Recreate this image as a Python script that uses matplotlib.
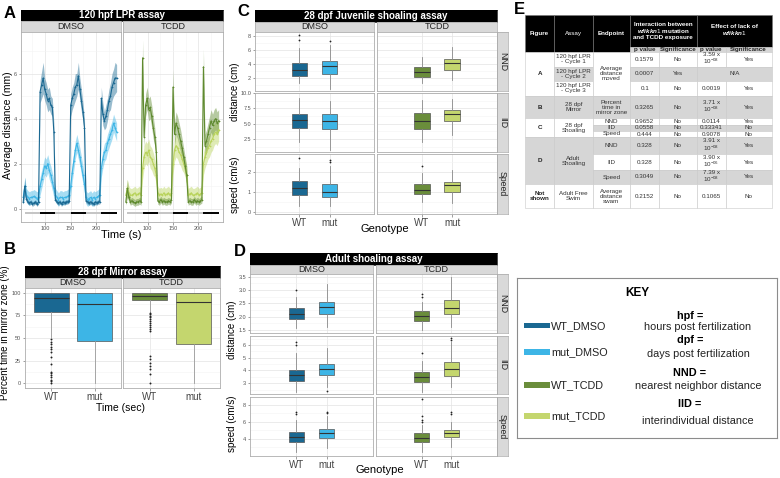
import numpy as np
import matplotlib
matplotlib.use('Agg')
import matplotlib.pyplot as plt
from matplotlib.patches import Rectangle
from matplotlib.ticker import AutoMinorLocator

plt.rcParams['font.family'] = ['Liberation Sans', 'DejaVu Sans']
plt.rcParams['mathtext.fontset'] = 'custom'
plt.rcParams['mathtext.rm'] = 'Liberation Sans'
plt.rcParams['mathtext.it'] = 'Liberation Sans:italic:bold'
plt.rcParams['mathtext.bf'] = 'Liberation Sans:bold'

# group colours: WT_DMSO, mut_DMSO, WT_TCDD, mut_TCDD
groups = ['WT_DMSO', 'mut_DMSO', 'WT_TCDD', 'mut_TCDD']
colors = ['#1a6892', '#3db5e6', '#6a8d3b', '#c4d66e']

# ---------------- A : LPR, mean distance per 3 s bin ----------------
lpr_time = list(range(57, 241, 3))
wt_dmso = [0.3, 1.0, 0.45, 0.3, 0.25, 0.3, 0.2, 0.25, 0.3, 0.2, 0.3,
           5.2, 5.5, 5.8, 5.3, 5.1, 4.8, 4.9, 4.6, 4.5, 3.4,
           0.4, 0.3, 0.25, 0.3, 0.2, 0.3, 0.25, 0.3, 0.3, 0.35,
           4.6, 4.9, 5.1, 5.4, 5.5, 5.9, 5.3, 4.8, 4.3, 3.6,
           0.35, 0.3, 0.25, 0.3, 0.25, 0.2, 0.3, 0.25, 0.3, 0.3,
           4.9, 4.2, 3.9, 4.1, 4.4, 4.8, 5.0, 5.4, 5.6, 5.8, 5.8]
wt_dmso_se = [0.1, 0.4, 0.15, 0.1, 0.1, 0.1, 0.1, 0.1, 0.1, 0.1, 0.1,
              0.5, 0.6, 0.7, 0.5, 0.5, 0.5, 0.5, 0.4, 0.4, 0.4,
              0.1, 0.1, 0.1, 0.1, 0.1, 0.1, 0.1, 0.1, 0.1, 0.1,
              0.5, 0.5, 0.5, 0.6, 0.5, 0.6, 0.5, 0.5, 0.4, 0.4,
              0.1, 0.1, 0.1, 0.1, 0.1, 0.1, 0.1, 0.1, 0.1, 0.1,
              0.5, 0.5, 0.4, 0.5, 0.5, 0.5, 0.6, 0.6, 0.6, 0.7, 0.6]
mut_dmso = [0.5, 1.0, 0.6, 0.5, 0.45, 0.5, 0.5, 0.55, 0.5, 0.45, 0.5,
            1.0, 1.3, 1.6, 1.9, 1.8, 2.0, 1.7, 1.5, 1.2, 0.9,
            0.6, 0.5, 0.4, 0.5, 0.5, 0.45, 0.5, 0.5, 0.55, 0.6,
            1.0, 1.6, 2.1, 2.6, 2.9, 2.6, 2.3, 1.9, 1.5, 1.1,
            0.5, 0.4, 0.45, 0.5, 0.4, 0.5, 0.45, 0.5, 0.55, 0.6,
            1.8, 2.2, 2.5, 2.6, 2.9, 3.1, 3.3, 3.5, 3.8, 3.6, 3.4]
mut_dmso_se = [0.3, 0.4, 0.3, 0.3, 0.3, 0.3, 0.3, 0.3, 0.3, 0.3, 0.3,
               0.4, 0.4, 0.4, 0.4, 0.4, 0.4, 0.4, 0.4, 0.4, 0.4,
               0.3, 0.3, 0.3, 0.3, 0.3, 0.3, 0.3, 0.3, 0.3, 0.3,
               0.4, 0.4, 0.4, 0.4, 0.4, 0.4, 0.4, 0.4, 0.4, 0.4,
               0.3, 0.3, 0.3, 0.3, 0.3, 0.3, 0.3, 0.3, 0.3, 0.3,
               0.4, 0.4, 0.4, 0.4, 0.4, 0.4, 0.4, 0.4, 0.4, 0.4, 0.4]
wt_tcdd = [0.3, 0.9, 0.5, 0.3, 0.35, 0.3, 0.25, 0.3, 0.3, 0.35, 0.3,
           6.7, 3.2, 4.6, 4.9, 4.4, 4.5, 4.1, 3.6, 3.2, 2.5,
           0.35, 0.3, 0.4, 0.3, 0.35, 0.3, 0.3, 0.35, 0.3, 0.4,
           5.4, 3.3, 3.8, 3.6, 3.3, 3.0, 2.7, 2.3, 1.9, 1.5,
           0.3, 0.35, 0.3, 0.3, 0.4, 0.3, 0.35, 0.3, 0.35, 0.4,
           6.3, 2.8, 3.0, 3.3, 3.6, 3.9, 3.7, 3.9, 4.0, 3.8, 3.9]
wt_tcdd_se = [0.15, 0.4, 0.2, 0.15, 0.15, 0.15, 0.15, 0.15, 0.15, 0.15, 0.15,
              0.8, 0.5, 0.5, 0.5, 0.5, 0.5, 0.5, 0.5, 0.4, 0.4,
              0.15, 0.15, 0.15, 0.15, 0.15, 0.15, 0.15, 0.15, 0.15, 0.15,
              0.8, 0.5, 0.5, 0.5, 0.5, 0.5, 0.4, 0.4, 0.4, 0.4,
              0.15, 0.15, 0.15, 0.15, 0.15, 0.15, 0.15, 0.15, 0.15, 0.15,
              0.8, 0.5, 0.5, 0.5, 0.5, 0.5, 0.5, 0.5, 0.5, 0.5, 0.5]
mut_tcdd = [0.6, 0.9, 0.7, 0.6, 0.6, 0.65, 0.7, 0.6, 0.65, 0.7, 0.6,
            1.8, 2.3, 2.5, 2.4, 2.6, 2.3, 2.2, 2.0, 1.8, 1.5,
            0.7, 0.6, 0.65, 0.6, 0.7, 0.6, 0.65, 0.7, 0.6, 0.7,
            2.0, 2.6, 2.8, 2.7, 2.5, 2.4, 2.2, 2.0, 1.8, 1.5,
            0.6, 0.65, 0.7, 0.6, 0.6, 0.65, 0.7, 0.6, 0.65, 0.7,
            2.0, 2.3, 2.5, 2.7, 2.8, 3.0, 3.1, 3.3, 3.4, 3.3, 3.5]
mut_tcdd_se = [0.3, 0.4, 0.3, 0.3, 0.3, 0.3, 0.3, 0.3, 0.3, 0.3, 0.3,
               0.5, 0.5, 0.5, 0.5, 0.5, 0.5, 0.5, 0.5, 0.4, 0.4,
               0.3, 0.3, 0.3, 0.3, 0.3, 0.3, 0.3, 0.3, 0.3, 0.3,
               0.5, 0.5, 0.5, 0.5, 0.5, 0.5, 0.5, 0.4, 0.4, 0.4,
               0.3, 0.3, 0.3, 0.3, 0.3, 0.3, 0.3, 0.3, 0.3, 0.3,
               0.5, 0.5, 0.5, 0.5, 0.5, 0.5, 0.5, 0.5, 0.5, 0.5, 0.5]
light_starts = [60, 120, 180]
dark_starts = [90, 150, 210]
phase_len = 30

# ---------------- B : mirror assay, % time in mirror zone ----------------
mirror_med = [94.5, 87, 96, 90]
mirror_q1 = [79, 47, 91.5, 43]
mirror_q3 = [99, 99.5, 99, 99.5]
mirror_lo = [51, 0, 79, 0]
mirror_hi = [100, 100, 100, 100]
mirror_out = [[48.6, 46, 43.4, 40.5, 37.6, 34.7, 29.5, 21.2, 13.1, 11.3, 8.8, 6.6, 4, 2.2, 0.4],
              [],
              [78, 76, 74.4, 72.6, 70.8, 68.6, 66.7, 64.2, 61.7, 59.8, 57.7,
               30.6, 27, 22.3, 19.7, 16.1, 10.3, 0],
              []]

# ---------------- C : juvenile shoaling ----------------
metrics = ['NND', 'IID', 'Speed']
juv_med = {'NND': [3.17, 3.63, 2.9, 4.06], 'IID': [5.59, 5.48, 5.48, 6.56], 'Speed': [1.23, 1.03, 1.11, 1.36]}
juv_q1 = {'NND': [2.32, 2.5, 2.2, 3.2], 'IID': [4.24, 4.08, 4.14, 5.48], 'Speed': [0.87, 0.75, 0.9, 1.01]}
juv_q3 = {'NND': [4.11, 4.4, 3.5, 4.7], 'IID': [6.56, 6.56, 6.82, 7.31], 'Speed': [1.59, 1.44, 1.44, 1.53]}
juv_lo = {'NND': [1.3, 0.45, 1.3, 1.66], 'IID': [1.98, 0.65, 2.1, 3.18], 'Speed': [0.33, 0.3, 0.52, 0.49]}
juv_hi = {'NND': [6.2, 6.7, 4.96, 6.45], 'IID': [9.24, 8.7, 8.8, 9.08], 'Speed': [2.22, 2.33, 1.97, 2.1]}
juv_out = {'NND': [[8.1, 7.4], [7.25], [], []], 'IID': [[], [], [], []],
           'Speed': [[2.74], [2.63, 2.51], [2.3], []]}
juv_ylim = {'NND': (0.17, 8.5), 'IID': (0.4, 9.85), 'Speed': (-0.08, 2.92)}
juv_ticks = {'NND': [2, 4, 6, 8], 'IID': [2.5, 5.0, 7.5, 10.0], 'Speed': [0, 1, 2]}
juv_ticklabels = {'NND': ['2', '4', '6', '8'], 'IID': ['2.5', '5.0', '7.5', '10.0'], 'Speed': ['0', '1', '2']}

# ---------------- D : adult shoaling ----------------
ad_med = {'NND': [2.10, 2.35, 2.03, 2.33], 'IID': [3.66, 4.13, 3.52, 4.13], 'Speed': [4.2, 4.67, 4.15, 4.74]}
ad_q1 = {'NND': [1.90, 2.10, 1.85, 2.10], 'IID': [3.21, 3.68, 3.13, 3.60], 'Speed': [3.68, 4.15, 3.68, 4.2]}
ad_q3 = {'NND': [2.32, 2.55, 2.21, 2.62], 'IID': [4.05, 4.52, 3.92, 4.67], 'Speed': [4.86, 5.18, 4.67, 5.06]}
ad_lo = {'NND': [1.57, 1.6, 1.5, 1.63], 'IID': [2.35, 2.74, 2.35, 2.74], 'Speed': [2.5, 2.9, 2.5, 3.02]}
ad_hi = {'NND': [2.75, 3.21, 2.56, 3.5], 'IID': [5.35, 5.74, 4.77, 6.26], 'Speed': [6.24, 6.7, 5.65, 6.04]}
ad_out = {'NND': [[3.0], [], [2.84, 2.75], []],
          'IID': [[6.2, 6.0], [2.43], [5.35], [6.52, 6.39]],
          'Speed': [[7.2, 6.94], [7.2, 7.0], [8.67, 6.7, 6.24, 6.04], [7.14, 6.94]]}
ad_ylim = {'NND': (1.39, 3.6), 'IID': (2.16, 6.7), 'Speed': (2.0, 8.94)}
ad_ticks = {'NND': [1.5, 2.0, 2.5, 3.0, 3.5], 'IID': [3, 4, 5, 6], 'Speed': [4, 6, 8]}
ad_ticklabels = {'NND': ['1.5', '2.0', '2.5', '3.0', '3.5'], 'IID': ['3', '4', '5', '6'], 'Speed': ['4', '6', '8']}

# ---------------- E : statistics table ----------------
tbl_figure = ['A', 'B', 'C', 'D', 'Not\nshown']
tbl_assay = ['120 hpf LPR\n- Cycle 1', '120 hpf LPR\n- Cycle 2', '120 hpf LPR\n- Cycle 3', '28 dpf\nMirror',
             '28 dpf\nShoaling', 'Adult\nShoaling', 'Adult Free\nSwim']
tbl_endpoint = ['Average\ndistance\nmoved', 'Percent\ntime in\nmirror zone', 'NND', 'IID', 'Speed',
                'NND', 'IID', 'Speed', 'Average\ndistance\nswam']
int_p = ['0.1579', '0.0007', '0.1', '0.3265', '0.9652', '0.0558', '0.444', '0.328', '0.328', '0.3049', '0.2152']
int_sig = ['No', 'Yes', 'No', 'No', 'No', 'No', 'No', 'No', 'No', 'No', 'No']
eff_p = ['3.59 x\n10$^{-08}$', 'N/A', '0.0019', '3.71 x\n10$^{-08}$', '0.0114', '0.33341', '0.9078',
         '3.91 x\n10$^{-08}$', '3.90 x\n10$^{-06}$', '7.39 x\n10$^{-08}$', '0.1065']
eff_sig = ['Yes', None, 'Yes', 'Yes', 'Yes', 'No', 'No', 'Yes', 'Yes', 'Yes', 'No']

key_abbrev = ['hpf =', 'dpf =', 'NND =', 'IID =']
key_meaning = ['hours post fertilization', 'days post fertilization',
               'nearest neighbor distance', 'interindividual distance']

# ================= drawing =================
W, H = 780, 478
fig = plt.figure(figsize=(7.8, 4.78), dpi=100)
fig.patch.set_facecolor('white')


def px_ax(x0, y0, x1, y1):
    return fig.add_axes([x0 / W, 1 - y1 / H, (x1 - x0) / W, (y1 - y0) / H])


def ftext(x, y, s, **kw):
    return fig.text(x / W, 1 - y / H, s, **kw)


def bar(x0, y0, x1, y1, text, fc, tc, weight='normal', size=6.3, rot=0, ec=None):
    ax = px_ax(x0, y0, x1, y1)
    ax.set_facecolor(fc)
    ax.set_xticks([])
    ax.set_yticks([])
    for s in ax.spines.values():
        s.set_color(ec if ec else fc)
        s.set_linewidth(0.5)
    ax.text(0.5, 0.5, text, transform=ax.transAxes, ha='center', va='center',
            color=tc, fontsize=size, fontweight=weight, rotation=rot)
    return ax


def style_panel(ax):
    ax.set_facecolor('white')
    for s in ax.spines.values():
        s.set_color('#adadad')
        s.set_linewidth(0.6)
    ax.yaxis.set_minor_locator(AutoMinorLocator(2))
    ax.grid(True, which='major', color='#e3e3e3', lw=0.5)
    ax.grid(True, which='minor', axis='y', color='#f3f3f3', lw=0.4)
    ax.set_axisbelow(True)
    ax.tick_params(labelsize=4, colors='#555555', length=1.8, width=0.4, pad=1)
    ax.tick_params(which='minor', length=0)


strip_fc = '#d9d9d9'
strip_ec = '#a8a8a8'

# ---- panel A ----
bar(20.7, 9.5, 222.7, 21, '120 hpf LPR assay', 'black', 'white', 'bold', 7)
for x0, x1, name in [(20.7, 120.7, 'DMSO'), (123.3, 222.7, 'TCDD')]:
    bar(x0, 21, x1, 31.5, name, strip_fc, '#222222', size=6.5, ec=strip_ec)
lpr_sets = [[(mut_dmso, mut_dmso_se, colors[1]), (wt_dmso, wt_dmso_se, colors[0])],
            [(mut_tcdd, mut_tcdd_se, '#b9d35c'), (wt_tcdd, wt_tcdd_se, '#5f8a2f')]]
for i, (x0, x1) in enumerate([(20.7, 120.7), (123.3, 222.7)]):
    ax = px_ax(x0, 31.5, x1, 221.7)
    style_panel(ax)
    t = np.array(lpr_time)
    for m, se, c in lpr_sets[i]:
        m = np.array(m)
        se = np.array(se)
        ax.fill_between(t, m - se, m + se, color=c, alpha=0.45, lw=0)
    for m, se, c in lpr_sets[i]:
        ax.plot(t, m, color=c, lw=0.8, marker='+', ms=2, mew=0.5)
    for s in light_starts:
        ax.plot([s, s + phase_len], [-0.2, -0.2], color='#c4c4c4', lw=1.4, solid_capstyle='butt')
    for s in dark_starts:
        ax.plot([s, s + phase_len], [-0.2, -0.2], color='black', lw=1.4, solid_capstyle='butt')
    ax.set_xlim(52, 248)
    ax.set_ylim(-0.58, 7.87)
    ax.set_xticks([100, 150, 200])
    ax.xaxis.set_minor_locator(AutoMinorLocator(2))
    ax.grid(True, which='minor', axis='x', color='#f3f3f3', lw=0.4)
    ax.set_yticks([0, 2, 4, 6])
    if i == 1:
        ax.tick_params(axis='y', length=0, labelleft=False)
ftext(8, 125, 'Average distance (mm)', rotation=90, ha='center', va='center', fontsize=7.5)
ftext(121, 235, 'Time (s)', ha='center', va='center', fontsize=8)
ftext(10, 13, 'A', ha='center', va='center', fontsize=12, fontweight='bold')

# ---- panel B ----
bar(25, 266, 220, 277.5, '28 dpf Mirror assay', 'black', 'white', 'bold', 7)
for x0, x1, name in [(25, 120.7, 'DMSO'), (123.3, 220, 'TCDD')]:
    bar(x0, 277.5, x1, 288, name, strip_fc, '#222222', size=6.5, ec=strip_ec)
for i, (x0, x1) in enumerate([(25, 120.7), (123.3, 220)]):
    ax = px_ax(x0, 288, x1, 388)
    style_panel(ax)
    stats = []
    for g in (2 * i, 2 * i + 1):
        stats.append(dict(med=mirror_med[g], q1=mirror_q1[g], q3=mirror_q3[g],
                          whislo=mirror_lo[g], whishi=mirror_hi[g], fliers=mirror_out[g]))
    bp = ax.bxp(stats, positions=[1, 2], widths=0.8, patch_artist=True, showcaps=False,
                boxprops=dict(lw=0.5, edgecolor='#555555'),
                medianprops=dict(color='#333333', lw=0.8),
                whiskerprops=dict(color='#9a9a9a', lw=0.6),
                flierprops=dict(marker='o', ms=1.4, mfc='#222222', mec='none'))
    for patch, g in zip(bp['boxes'], (2 * i, 2 * i + 1)):
        patch.set_facecolor(colors[g])
    ax.set_xlim(0.4, 2.6)
    ax.set_ylim(-5, 105)
    ax.set_yticks([0, 25, 50, 75, 100])
    ax.set_xticks([1, 2])
    ax.set_xticklabels(['WT', 'mut'], fontsize=7, color='#444444')
    if i == 1:
        ax.tick_params(axis='y', length=0, labelleft=False)
ftext(5, 333, 'Percent time in mirror zone (%)', rotation=90, ha='center', va='center', fontsize=7)
ftext(121, 408, 'Time (sec)', ha='center', va='center', fontsize=7.5)
ftext(10, 249, 'B', ha='center', va='center', fontsize=12, fontweight='bold')


# ---- panels C and D (boxplot grids) ----
def box_grid(title, ty, cols, rows, med, q1, q3, lo, hi, out, ylim, ticks, ticklabels, xlim, width):
    bar(cols[0][0], ty[0], cols[1][1], ty[1], title, 'black', 'white', 'bold', 7)
    for (x0, x1), name in zip(cols, ['DMSO', 'TCDD']):
        bar(x0, ty[1], x1, rows[0][0], name, strip_fc, '#222222', size=6.5, ec=strip_ec)
    for r, (y0, y1) in enumerate(rows):
        mt = metrics[r]
        bar(cols[1][1], y0, cols[1][1] + 11, y1, mt, strip_fc, '#222222', size=6.3, rot=270, ec=strip_ec)
        for i, (x0, x1) in enumerate(cols):
            ax = px_ax(x0, y0, x1, y1)
            style_panel(ax)
            stats = []
            for g in (2 * i, 2 * i + 1):
                stats.append(dict(med=med[mt][g], q1=q1[mt][g], q3=q3[mt][g],
                                  whislo=lo[mt][g], whishi=hi[mt][g], fliers=out[mt][g]))
            bp = ax.bxp(stats, positions=[1, 2], widths=width, patch_artist=True, showcaps=False,
                        boxprops=dict(lw=0.5, edgecolor='#555555'),
                        medianprops=dict(color='#333333', lw=0.8),
                        whiskerprops=dict(color='#8a8a8a', lw=0.6),
                        flierprops=dict(marker='o', ms=1.3, mfc='#222222', mec='none'))
            for patch, g in zip(bp['boxes'], (2 * i, 2 * i + 1)):
                patch.set_facecolor(colors[g])
            ax.set_xlim(*xlim)
            ax.set_ylim(*ylim[mt])
            ax.set_yticks(ticks[mt])
            ax.set_yticklabels(ticklabels[mt])
            ax.set_xticks([1, 2])
            if r == len(rows) - 1:
                ax.set_xticklabels(['WT', 'mut'], fontsize=7, color='#444444')
            else:
                ax.tick_params(axis='x', length=0, labelbottom=False)
            if i == 1:
                ax.tick_params(axis='y', length=0, labelleft=False)


box_grid('28 dpf Juvenile shoaling assay', (10, 21.5), [(255, 374), (377, 497)],
         [(32, 91), (93, 152), (154, 214)], juv_med, juv_q1, juv_q3, juv_lo, juv_hi, juv_out,
         juv_ylim, juv_ticks, juv_ticklabels, (-0.48, 3.48), 0.52)
ftext(234.5, 92, 'distance (cm)', rotation=90, ha='center', va='center', fontsize=7)
ftext(234.5, 185, 'speed (cm/s)', rotation=90, ha='center', va='center', fontsize=7)
ftext(385, 229, 'Genotype', ha='center', va='center', fontsize=8)
ftext(243, 12, 'C', ha='center', va='center', fontsize=12, fontweight='bold')

box_grid('Adult shoaling assay', (253, 264.5), [(250, 373), (376, 497)],
         [(274, 333), (336, 394), (397, 456)], ad_med, ad_q1, ad_q3, ad_lo, ad_hi, ad_out,
         ad_ylim, ad_ticks, ad_ticklabels, (-0.52, 3.52), 0.5)
ftext(232, 330, 'distance (cm)', rotation=90, ha='center', va='center', fontsize=7)
ftext(232, 424, 'speed (cm/s)', rotation=90, ha='center', va='center', fontsize=7)
ftext(380, 470, 'Genotype', ha='center', va='center', fontsize=8)
ftext(240, 252, 'D', ha='center', va='center', fontsize=12, fontweight='bold')

# ---- panel E : table ----
col_x = [525, 554.3, 592.7, 630, 659.3, 696.7, 725.7, 771.7]
row_y = [51.7, 66.7, 80.7, 96, 118.3, 125, 130.7, 137.3, 154, 170, 184, 208.3]
row_shaded = [False, True, False, True, False, True, False, True, False, True, False]
fig_span = [(0, 3, False), (3, 4, True), (4, 7, False), (7, 10, True), (10, 11, False)]
assay_span = [(0, 1, False), (1, 2, True), (2, 3, False), (3, 4, True), (4, 7, False), (7, 10, True), (10, 11, False)]
end_span = [(0, 3, False), (3, 4, True), (4, 5, False), (5, 6, True), (6, 7, False),
            (7, 8, True), (8, 9, False), (9, 10, True), (10, 11, False)]

tax = px_ax(524, 14, 773, 210)
tax.set_xlim(524, 773)
tax.set_ylim(210, 14)
tax.axis('off')
shade = '#d6d6d6'
fs = 4.5


def cell(c0, c1, r0, r1, text, shaded, bold=False, color='#333333', fc=None, ec='#c8c8c8'):
    face = fc if fc else (shade if shaded else 'white')
    tax.add_patch(Rectangle((c0, r0), c1 - c0, r1 - r0, facecolor=face, edgecolor=ec, lw=0.4))
    if text:
        tax.text((c0 + c1) / 2, (r0 + r1) / 2, text, ha='center', va='center', fontsize=fs,
                 color=color, fontweight='bold' if bold else 'normal', linespacing=1.0)


# header
cell(col_x[0], col_x[1], 15, row_y[0], 'Figure', False, True, 'white', 'black', '#777777')
cell(col_x[1], col_x[2], 15, row_y[0], 'Assay', False, False, 'white', 'black', '#777777')
cell(col_x[2], col_x[3], 15, row_y[0], 'Endpoint', False, True, 'white', 'black', '#777777')
cell(col_x[3], col_x[5], 15, 46.7, 'Interaction between\n$\\mathit{wfikkn1}$ mutation\nand TCDD exposure',
     False, True, 'white', 'black', '#777777')
cell(col_x[5], col_x[7], 15, 46.7, 'Effect of lack of\n$\\mathit{wfikkn1}$', False, True, 'white', 'black', '#777777')
for k, sub in enumerate(['p value', 'Significance', 'p value', 'Significance']):
    cell(col_x[3 + k], col_x[4 + k], 46.7, row_y[0], sub, True, True, '#222222')
# body
for (r0, r1, sh), txt in zip(fig_span, tbl_figure):
    cell(col_x[0], col_x[1], row_y[r0], row_y[r1], txt, sh, True, '#222222')
for (r0, r1, sh), txt in zip(assay_span, tbl_assay):
    cell(col_x[1], col_x[2], row_y[r0], row_y[r1], txt, sh)
for (r0, r1, sh), txt in zip(end_span, tbl_endpoint):
    cell(col_x[2], col_x[3], row_y[r0], row_y[r1], txt, sh)
for r in range(len(int_p)):
    y0, y1, sh = row_y[r], row_y[r + 1], row_shaded[r]
    cell(col_x[3], col_x[4], y0, y1, int_p[r], sh)
    cell(col_x[4], col_x[5], y0, y1, int_sig[r], sh)
    if eff_sig[r] is None:
        cell(col_x[5], col_x[7], y0, y1, eff_p[r], sh)
    else:
        cell(col_x[5], col_x[6], y0, y1, eff_p[r], sh)
        cell(col_x[6], col_x[7], y0, y1, eff_sig[r], sh)
ftext(519, 10, 'E', ha='center', va='center', fontsize=12, fontweight='bold')

# ---- key ----
kax = px_ax(517, 278, 777, 438)
kax.set_xlim(517, 777)
kax.set_ylim(438, 278)
kax.set_xticks([])
kax.set_yticks([])
for s in kax.spines.values():
    s.set_color('#8c8c8c')
    s.set_linewidth(0.8)
kax.text(637, 293, 'KEY', ha='center', va='center', fontsize=8.5, fontweight='bold')
for y, g, c in zip([325.7, 352, 385, 416], groups, colors):
    kax.add_patch(Rectangle((524, y - 2.6), 26, 5.2, facecolor=c, edgecolor='none'))
    kax.text(551, y, g, ha='left', va='center', fontsize=7.8, color='#222222')
for ya, ym, a, m in zip([315.7, 340, 373.3, 404.3], [326.7, 354.3, 386, 420.7], key_abbrev, key_meaning):
    kax.text(690, ya, a, ha='center', va='center', fontsize=7.8, fontweight='bold')
    kax.text(698, ym, m, ha='center', va='center', fontsize=7.8, color='#222222')

fig.savefig('out.png', dpi=100, facecolor='white')
